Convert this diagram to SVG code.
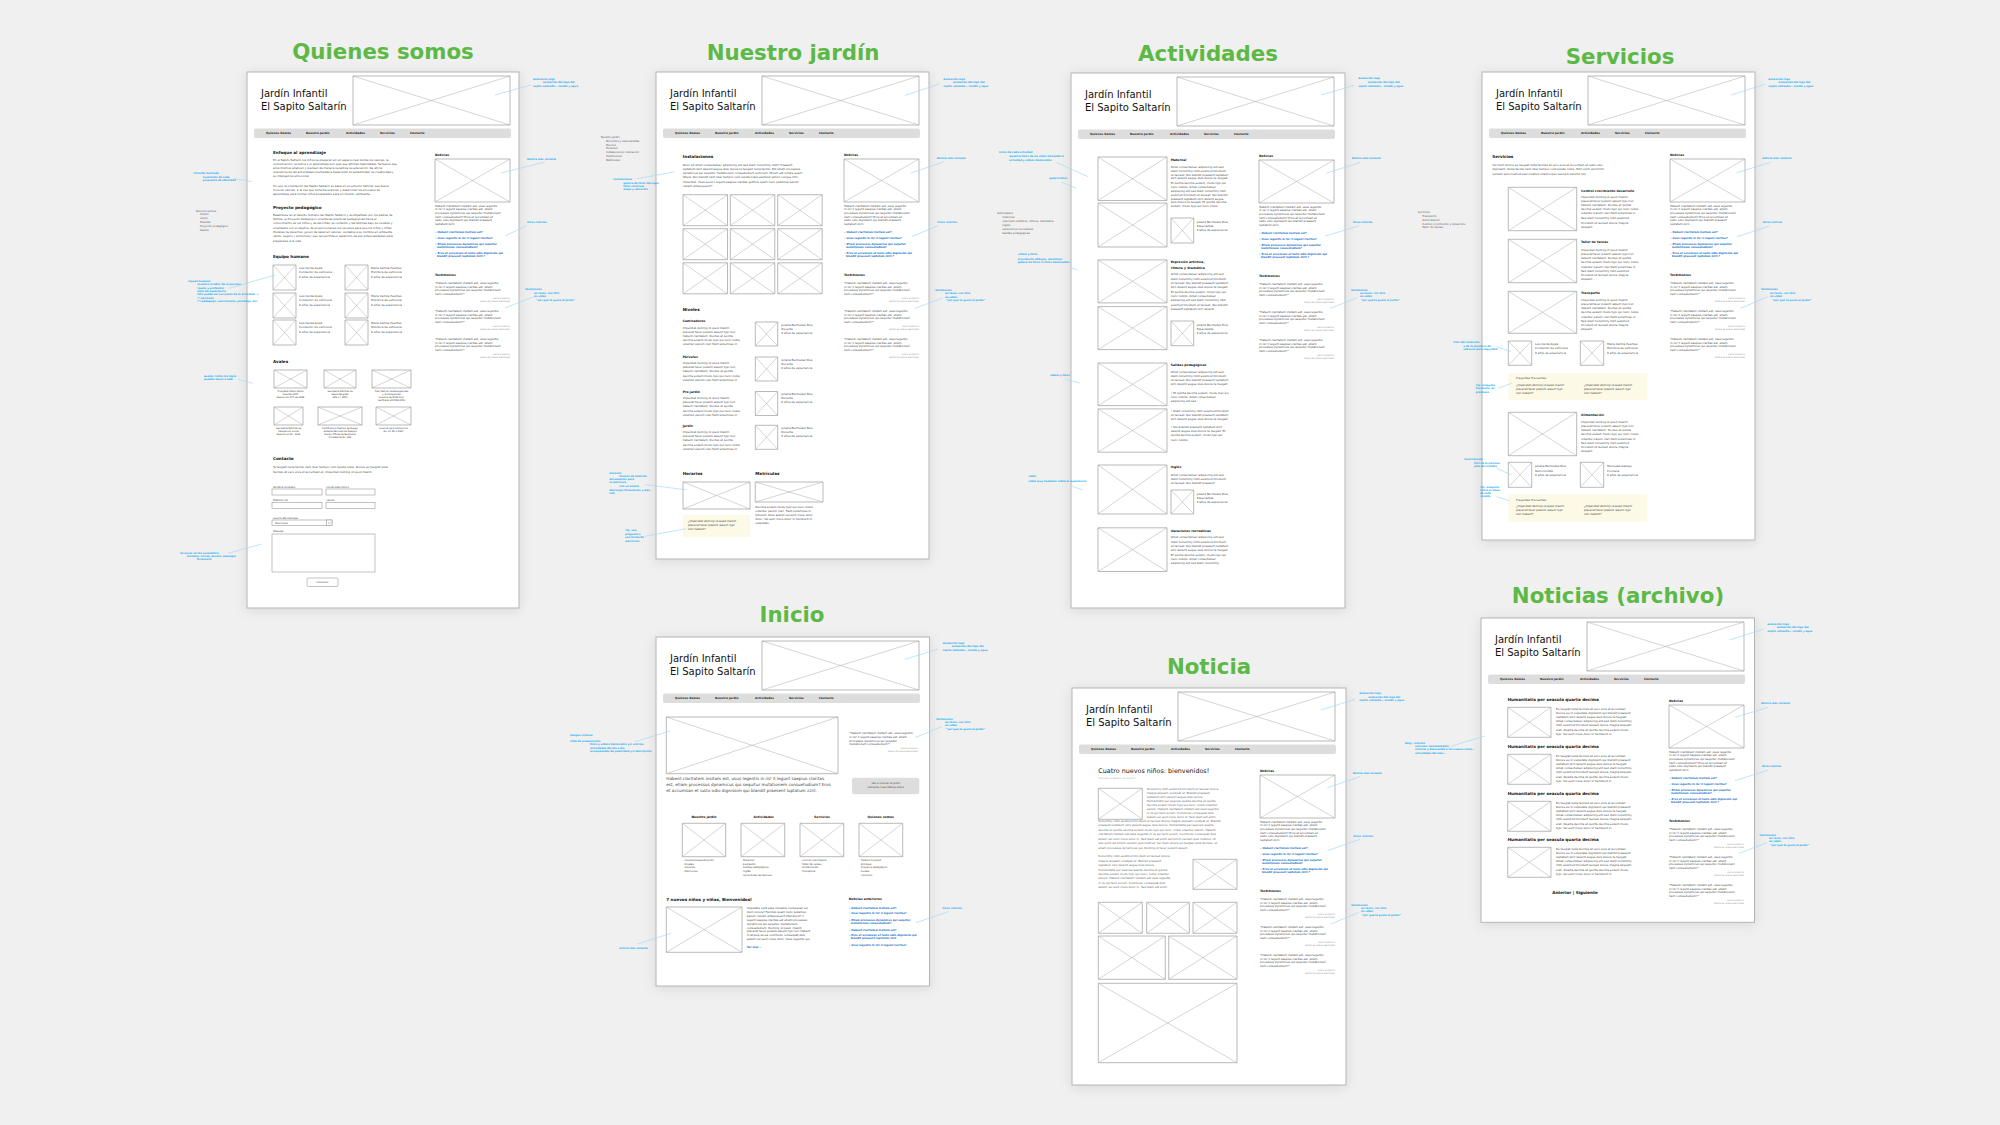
<svg xmlns="http://www.w3.org/2000/svg" width="2000" height="1125" viewBox="0 0 2000 1125">
<style>
text{font-family:"DejaVu Sans","Liberation Sans",sans-serif}
.pg{fill:#fff;stroke:#b4b4b4;stroke-width:1;filter:url(#sh)}
.tt{font-size:21.3px;font-weight:bold;fill:#5cb946;text-anchor:middle}
.br{font-size:10px;fill:#111}
.nv{font-size:2.9px;font-weight:bold;fill:#222}
.h{font-size:4.1px;font-weight:bold;fill:#111}
.h3{font-size:3.1px;font-weight:bold;fill:#111}
.p{font-size:2.8px;fill:#444}
.pl{font-size:2.8px;fill:#666}
.big{font-size:4.2px;fill:#444}
.lk{font-size:2.6px;font-weight:bold;fill:#1a6fc4}
.at{font-size:2.2px;fill:#9a9a9a;text-anchor:end}
.an{font-size:2.5px;font-weight:bold;fill:#1aa9ef}
.sm{font-size:2.7px;fill:#555}
.it{font-size:2.8px;font-style:italic;fill:#444}
.cp{font-size:2.3px;fill:#333;text-anchor:middle}
.lb{font-size:2.5px;fill:#444}
.in{fill:#fff;stroke:#9a9a9a;stroke-width:0.6}
.fq{fill:#fcfae7}
.ld{stroke:#a3daf3;stroke-width:0.7;fill:none}
.c{text-anchor:middle}
</style>
<defs>
<filter id="sh" x="-15%" y="-15%" width="130%" height="130%">
<feDropShadow dx="0" dy="2" stdDeviation="6" flood-color="#000" flood-opacity="0.10"/>
</filter>
<symbol id="x" viewBox="0 0 100 100" preserveAspectRatio="none" style="overflow:visible">
<rect width="100" height="100" fill="#fff" stroke="#9c9c9c" stroke-width="0.7" vector-effect="non-scaling-stroke"/>
<path d="M0 0L100 100M100 0L0 100" stroke="#ababab" stroke-width="0.5" fill="none" vector-effect="non-scaling-stroke"/>
</symbol>
<g id="hd">
<text class="br" x="14" y="25">Jardín Infantil</text>
<text class="br" x="14" y="37.5">El Sapito Saltarín</text>
<use href="#x" x="106" y="4" width="157" height="49"/>
<rect x="7" y="56.5" width="257" height="9.5" rx="2" fill="#dddddd"/>
<text class="nv" y="62.3"><tspan x="19">Quienes Somos</tspan><tspan x="59">Nuestro Jardín</tspan><tspan x="99">Actividades</tspan><tspan x="133">Servicios</tspan><tspan x="163">Contacto</tspan></text>
<line x1="190" y1="62" x2="258" y2="62" stroke="#c4c4c4" stroke-width="0.5" stroke-dasharray="0.5 3.5"/>
</g>
<g id="rc">
<text class="h3" x="188" y="84">Noticias</text>
<use href="#x" x="188" y="87" width="75" height="43"/>
<text class="p"><tspan x="188" y="134.5">Habent claritatem insitam est, usus legentis</tspan><tspan x="188" y="138.2">in iis! Il legunt saepius claritas est, etiam</tspan><tspan x="188" y="141.9">processus dynamicus qui sequitur mutationem</tspan><tspan x="188" y="145.6">nam consuetudium? Eros et accumsan et</tspan><tspan x="188" y="149.3">iusto odio dignissim qui blandit praesent</tspan><tspan x="188" y="153">luptatum zzril.</tspan></text>
<text class="lk"><tspan x="188" y="161">» Habent claritatem insitam est?</tspan><tspan x="188" y="167">» Usus legentis in iis! Il legunt claritas?</tspan><tspan x="188" y="173">» Etiam processus dynamicus qui sequitur</tspan><tspan x="190" y="176.3">mutationem consuetudium?</tspan><tspan x="188" y="182">» Eros et accumsan et iusto odio dignissim qui</tspan><tspan x="190" y="185.3">blandit praesent luptatum zzril ?</tspan></text>
<text class="h3" x="188" y="204">Testimonios</text>
<text class="p"><tspan x="188" y="212">“Habent claritatem insitam est, usus legentis</tspan><tspan x="188" y="215.7">in iis! Il legunt saepius claritas est, etiam</tspan><tspan x="188" y="219.4">processus dynamicus qui sequitur mutationem</tspan><tspan x="188" y="223.1">nam consuetudium?”</tspan></text>
<text class="at"><tspan x="263" y="227">Zaira Guillermo</tspan><tspan x="263" y="230">Madre de Juliana Bermúdez</tspan></text>
<text class="p"><tspan x="188" y="240">“Habent claritatem insitam est, usus legentis</tspan><tspan x="188" y="243.7">in iis! Il legunt saepius claritas est, etiam</tspan><tspan x="188" y="247.4">processus dynamicus qui sequitur mutationem</tspan><tspan x="188" y="251.1">nam consuetudium?”</tspan></text>
<text class="at"><tspan x="263" y="255">Zaira Guillermo</tspan><tspan x="263" y="258">Madre de Juliana Bermúdez</tspan></text>
<text class="p"><tspan x="188" y="268">“Habent claritatem insitam est, usus legentis</tspan><tspan x="188" y="271.7">in iis! Il legunt saepius claritas est, etiam</tspan><tspan x="188" y="275.4">processus dynamicus qui sequitur mutationem</tspan><tspan x="188" y="279.1">nam consuetudium?”</tspan></text>
<text class="at"><tspan x="263" y="283">Zaira Guillermo</tspan><tspan x="263" y="286">Madre de Juliana Bermúdez</tspan></text>
</g>
</defs>

<rect width="2000" height="1125" fill="#f0f0f0"/>

<!-- QUIENES SOMOS -->
<g id="page-quienes-somos" transform="translate(247,72)">
<text class="tt" x="136" y="-13">Quienes somos</text>
<rect class="pg" width="272" height="536"/>
<use href="#hd"/>
<text class="h" x="26" y="82">Enfoque al aprendizaje</text>
<text class="p"><tspan x="26" y="88.5">En el Sapito Saltarín los niños se preparan en un espacio real donde los valores, la</tspan><tspan x="26" y="92.7">comunicación, la lúdica y el aprendizaje son ejes que afirman habilidades. Se busca que</tspan><tspan x="26" y="96.9">ellos mismos analicen y piensen de manera receptiva su educación. De ahí la</tspan><tspan x="26" y="101.1">relevancia de las actividades orientadas a desarrollar su sensibilidad, su creatividad y</tspan><tspan x="26" y="105.3">su inteligencia emocional.</tspan><tspan x="26" y="114.7">Por eso la orientación del Sapito Saltarín se basa en un entorno familiar que busca</tspan><tspan x="26" y="118.9">inculcar valores, a la vez que fomenta explorar y desarrollar los procesos de</tspan><tspan x="26" y="123.1">aprendizaje para formar niños preparados para un mundo cambiante.</tspan></text>
<text class="h" x="26" y="137.3">Proyecto pedagógico</text>
<text class="p"><tspan x="26" y="143.7">Basándose en el talento humano del Sapito Saltarín y acompañado por los padres de</tspan><tspan x="26" y="148">familia, el Proyecto Pedagógico orienta las prácticas pedagógicas hacia el</tspan><tspan x="26" y="152.3">conocimiento de los niños y de las niñas, su contexto y las familias bajo su cuidado y</tspan><tspan x="26" y="156.6">orientados con el objetivo de proporcionarles los recursos para que los niños y niñas</tspan><tspan x="26" y="160.9">titulares de derechos, gocen de salud en valores, cuidados a su nombre en ambiente</tspan><tspan x="26" y="165.2">cálido, seguro y armonioso; que les permita el desarrollo de sus potencialidades para</tspan><tspan x="26" y="169.5">prepararse a la vida.</tspan></text>
<text class="h" x="26" y="186.3">Equipo humano</text>
<use href="#x" x="26" y="193" width="23" height="25"/>
<use href="#x" x="98" y="193" width="23" height="25"/>
<use href="#x" x="26" y="221" width="23" height="25"/>
<use href="#x" x="98" y="221" width="23" height="25"/>
<use href="#x" x="26" y="248" width="23" height="25"/>
<use href="#x" x="98" y="248" width="23" height="25"/>
<text class="p"><tspan x="52" y="197">Luis Cerda Ayala</tspan><tspan x="52" y="201">Conductor de vehículos</tspan><tspan x="52" y="205.5">6 años de experiencia</tspan><tspan x="124" y="197">María Camila Puentes</tspan><tspan x="124" y="201">Monitora de vehículos</tspan><tspan x="124" y="205.5">6 años de experiencia</tspan>
<tspan x="52" y="225">Luis Cerda Ayala</tspan><tspan x="52" y="229">Conductor de vehículos</tspan><tspan x="52" y="233.5">6 años de experiencia</tspan><tspan x="124" y="225">María Camila Puentes</tspan><tspan x="124" y="229">Monitora de vehículos</tspan><tspan x="124" y="233.5">6 años de experiencia</tspan>
<tspan x="52" y="252">Luis Cerda Ayala</tspan><tspan x="52" y="256">Conductor de vehículos</tspan><tspan x="52" y="260.5">6 años de experiencia</tspan><tspan x="124" y="252">María Camila Puentes</tspan><tspan x="124" y="256">Monitora de vehículos</tspan><tspan x="124" y="260.5">6 años de experiencia</tspan></text>
<text class="h" x="26" y="291">Avales</text>
<use href="#x" x="27" y="298" width="33" height="18"/>
<use href="#x" x="77" y="298" width="32" height="18"/>
<use href="#x" x="125" y="298" width="39" height="18"/>
<text class="cp"><tspan x="43.5" y="319.5">Programa Pasito Pasito</tspan><tspan x="43.5" y="322.5">Huertas 2007</tspan><tspan x="43.5" y="326">Resolución 077 de 2008</tspan><tspan x="93" y="319.5">Secretaría Distrital de</tspan><tspan x="93" y="322.5">Salud (Bogotá)</tspan><tspan x="93" y="326">SDS 1 / 1004</tspan><tspan x="144.5" y="319.5">Plan Padrino de Emergencias</tspan><tspan x="144.5" y="322.5">y Contingencias</tspan><tspan x="144.5" y="326">Licencia de DIAN Cod.</tspan><tspan x="144.5" y="329">Verificado 304008 2001</tspan></text>
<use href="#x" x="27" y="335" width="29" height="18"/>
<use href="#x" x="71" y="335" width="44" height="18"/>
<use href="#x" x="129" y="335" width="35" height="18"/>
<text class="cp"><tspan x="41.5" y="356.5">Secretaría Distrital de</tspan><tspan x="41.5" y="359.5">Integración Social</tspan><tspan x="41.5" y="363">Resolución No. 1226</tspan><tspan x="93" y="356.5">Certificación Gestión de Riesgo</tspan><tspan x="93" y="359.5">Sistema Nacional de Riesgos</tspan><tspan x="93" y="362.5">Cuerpo Oficial de Bomberos</tspan><tspan x="93" y="366">Constancia No. 369</tspan><tspan x="146.5" y="356.5">Licencia de Construcción</tspan><tspan x="146.5" y="359.5">No. LC 09-1-0287</tspan></text>
<text class="h" x="26" y="388">Contacto</text>
<text class="p"><tspan x="26" y="396">Te feugait nulla facilisi nam liber tempor cum soluta nobis. Dolore eu feugiat nulla</tspan><tspan x="26" y="401">facilisis at vero eros et accumsan et. Imperdiet doming id quod mazim.</tspan></text>
<text class="lb"><tspan x="26" y="415.5">Nombre completo</tspan><tspan x="79" y="415.5">Correo electrónico</tspan><tspan x="26" y="428.5">Teléfono fijo</tspan><tspan x="79" y="428.5">Celular</tspan><tspan x="26" y="446.5">Asunto del mensaje</tspan><tspan x="26" y="460">Mensaje</tspan></text>
<rect class="in" x="25" y="417" width="50" height="6"/>
<rect class="in" x="79" y="417" width="49" height="6"/>
<rect class="in" x="25" y="430.5" width="50" height="6"/>
<rect class="in" x="79" y="430.5" width="49" height="6"/>
<rect class="in" x="25" y="448" width="60" height="5.5"/>
<rect class="in" x="79.5" y="448" width="5.5" height="5.5"/>
<path d="M80.8 449.9L82.25 451.6L83.7 449.9" fill="none" stroke="#777" stroke-width="0.4"/>
<text class="lb" x="28" y="451.8" fill="#999">Matrículas</text>
<rect class="in" x="25" y="462" width="103" height="38"/>
<rect class="in" x="60" y="506" width="31" height="8.5" rx="1"/>
<text class="lb c" x="75.5" y="511.3">Contactar</text>
<use href="#rc"/>
</g>

<!-- NUESTRO JARDIN -->
<g id="page-nuestro-jardin" transform="translate(656,72)">
<text class="tt" x="137" y="-12">Nuestro jardín</text>
<rect class="pg" width="273" height="487"/>
<use href="#hd"/>
<text class="h" x="26.7" y="85.6">Instalaciones</text>
<text class="p"><tspan x="26.7" y="93.5">Dolor sit amet consectetuer adipiscing elit sed diam nonummy nibh? Praesent</tspan><tspan x="26.7" y="97.8">luptatum zzril delenit augue duis dolore te feugait nulla facilisi. Est etiam processus</tspan><tspan x="26.7" y="102.1">dynamicus qui sequitur mutationem consuetudium lectorum. Mirum est notare quam</tspan><tspan x="26.7" y="106.4">littera. Qui blandit nam liber tempor cum soluta nobis eleifend option congue nihil</tspan><tspan x="26.7" y="110.7">imperdiet. Usus quod ii legunt saepius claritas gothica quam nunc putamus parum</tspan><tspan x="26.7" y="115">claram anteposuerit?</tspan></text>
<use href="#x" x="27" y="122.7" width="44.5" height="31"/>
<use href="#x" x="74.3" y="122.7" width="44.5" height="31"/>
<use href="#x" x="121.7" y="122.7" width="44.5" height="31"/>
<use href="#x" x="27" y="156.7" width="44.5" height="31"/>
<use href="#x" x="74.3" y="156.7" width="44.5" height="31"/>
<use href="#x" x="121.7" y="156.7" width="44.5" height="31"/>
<use href="#x" x="27" y="190.8" width="44.5" height="31"/>
<use href="#x" x="74.3" y="190.8" width="44.5" height="31"/>
<use href="#x" x="121.7" y="190.8" width="44.5" height="31"/>
<text class="h" x="26.7" y="238.5">Niveles</text>
<text class="h3"><tspan x="26.7" y="250">Caminadores</tspan><tspan x="26.7" y="285.6">Párvulos</tspan><tspan x="26.7" y="320.7">Pre-jardín</tspan><tspan x="26.7" y="354.7">Jardín</tspan></text>
<text class="p"><tspan x="26.7" y="256.7">Imperdiet doming id quod mazim</tspan><tspan x="26.7" y="260.6">placerat facer possim assum typi non</tspan><tspan x="26.7" y="264.5">habent claritatem. Doctus et quinta</tspan><tspan x="26.7" y="269.3">decima eodem modo typi qui nunc nobis</tspan><tspan x="26.7" y="273.2">videntur parum clari fiant sollemnes in.</tspan>
<tspan x="26.7" y="292.3">Imperdiet doming id quod mazim</tspan><tspan x="26.7" y="296.2">placerat facer possim assum typi non</tspan><tspan x="26.7" y="300.1">habent claritatem. Doctus et quinta</tspan><tspan x="26.7" y="304.9">decima eodem modo typi qui nunc nobis</tspan><tspan x="26.7" y="308.8">videntur parum clari fiant sollemnes in.</tspan>
<tspan x="26.7" y="327.4">Imperdiet doming id quod mazim</tspan><tspan x="26.7" y="331.3">placerat facer possim assum typi non</tspan><tspan x="26.7" y="335.2">habent claritatem. Doctus et quinta</tspan><tspan x="26.7" y="340">decima eodem modo typi qui nunc nobis</tspan><tspan x="26.7" y="343.9">videntur parum clari fiant sollemnes in.</tspan>
<tspan x="26.7" y="361.4">Imperdiet doming id quod mazim</tspan><tspan x="26.7" y="365.3">placerat facer possim assum typi non</tspan><tspan x="26.7" y="369.2">habent claritatem. Doctus et quinta</tspan><tspan x="26.7" y="374">decima eodem modo typi qui nunc nobis</tspan><tspan x="26.7" y="377.9">videntur parum clari fiant sollemnes in.</tspan></text>
<use href="#x" x="99.3" y="250" width="22.4" height="24"/>
<use href="#x" x="99.3" y="285" width="22.4" height="24"/>
<use href="#x" x="99.3" y="319.5" width="22.4" height="24"/>
<use href="#x" x="99.3" y="353.3" width="22.4" height="24"/>
<text class="p"><tspan x="125.3" y="253.5">Juliana Bermúdez Ríos</tspan><tspan x="125.3" y="257.5">Docente</tspan><tspan x="125.3" y="261.8">6 años de experiencia</tspan><tspan x="125.3" y="288.5">Juliana Bermúdez Ríos</tspan><tspan x="125.3" y="292.5">Docente</tspan><tspan x="125.3" y="296.8">6 años de experiencia</tspan><tspan x="125.3" y="323">Juliana Bermúdez Ríos</tspan><tspan x="125.3" y="327">Docente</tspan><tspan x="125.3" y="331.3">6 años de experiencia</tspan><tspan x="125.3" y="356.8">Juliana Bermúdez Ríos</tspan><tspan x="125.3" y="360.8">Docente</tspan><tspan x="125.3" y="365.1">6 años de experiencia</tspan></text>
<text class="h" x="26.7" y="402.8">Horarios</text>
<text class="h" x="99.3" y="402.8">Matrículas</text>
<use href="#x" x="27" y="410" width="67" height="27"/>
<use href="#x" x="99.3" y="410" width="67.7" height="20"/>
<text class="p"><tspan x="99.3" y="435.5">Decima eodem modo typi qui nunc nobis</tspan><tspan x="99.3" y="439.5">videntur parum clari. Fiant sollemnes in</tspan><tspan x="99.3" y="443.5">futurum. Duis autem vel eum iriure dolor</tspan><tspan x="99.3" y="447.5">dolor. Vel eum iriure dolor in hendrerit in</tspan><tspan x="99.3" y="451.5">vulputate.</tspan></text>
<rect class="fq" x="27" y="443" width="67" height="22"/>
<text class="it"><tspan x="32" y="450">¿Imperdiet doming id quod mazim</tspan><tspan x="32" y="454">placerat facer possim assum typi</tspan><tspan x="32" y="458">non habent?</tspan></text>
<use href="#rc"/>
</g>

<!-- ACTIVIDADES -->
<g id="page-actividades" transform="translate(1071,73)">
<text class="tt" x="137" y="-12">Actividades</text>
<rect class="pg" width="274" height="535"/>
<use href="#hd"/>
<use href="#x" x="27" y="84" width="69" height="43.5"/>
<use href="#x" x="27" y="130" width="69" height="44"/>
<text class="h3" x="99.7" y="87.6">Maternal</text>
<text class="p"><tspan x="99.7" y="95">Amet consectetuer adipiscing elit sed</tspan><tspan x="99.7" y="98.8">diam nonummy nibh euismod tincidunt</tspan><tspan x="99.7" y="102.6">ut laoreet. Qui blandit praesent luptatum</tspan><tspan x="99.7" y="106.4">zzril delenit augue duis dolore te feugait.</tspan><tspan x="99.7" y="111.3">Et quinta decima eodem, modo typi qui</tspan><tspan x="99.7" y="115.1">nunc nobilis. Amet consectetuer</tspan><tspan x="99.7" y="118.9">adipiscing elit sed diam nonummy nibh</tspan><tspan x="99.7" y="122.7">euismod tincidunt ut laoreet. Qui blandit</tspan><tspan x="99.7" y="126.5">praesent luptatum zzril delenit augue</tspan><tspan x="99.7" y="130.3">duis dolore te feugait. Et quinta decima</tspan><tspan x="99.7" y="134.1">eodem, modo typi qui nunc nobis.</tspan></text>
<use href="#x" x="100" y="145" width="22.7" height="25"/>
<text class="p"><tspan x="125.7" y="149.7">Juliana Bermúdez Ríos</tspan><tspan x="125.7" y="153.8">Especialista</tspan><tspan x="125.7" y="158">6 años de experiencia</tspan></text>
<use href="#x" x="27" y="186.9" width="69" height="43"/>
<use href="#x" x="27" y="233.6" width="69" height="43"/>
<text class="h3"><tspan x="99.7" y="190.3">Expresión artística,</tspan><tspan x="99.7" y="196">rítmica y dramática</tspan></text>
<text class="p"><tspan x="99.7" y="202.4">Amet consectetuer adipiscing elit sed</tspan><tspan x="99.7" y="206.7">diam nonummy nibh euismod tincidunt</tspan><tspan x="99.7" y="211">ut laoreet. Qui blandit praesent luptatum</tspan><tspan x="99.7" y="215.3">zzril delenit augue duis dolore te feugait.</tspan><tspan x="99.7" y="219.6">Et quinta decima eodem, modo typi qui</tspan><tspan x="99.7" y="223.9">nunc nobilis. Amet consectetuer</tspan><tspan x="99.7" y="228.2">adipiscing elit sed diam nonummy nibh</tspan><tspan x="99.7" y="232.5">euismod tincidunt ut laoreet. Qui blandit</tspan><tspan x="99.7" y="236.8">praesent luptatum zzril delenit.</tspan></text>
<use href="#x" x="100" y="248" width="22.7" height="24.7"/>
<text class="p"><tspan x="125.7" y="252.8">Juliana Bermúdez Ríos</tspan><tspan x="125.7" y="257">Especialista</tspan><tspan x="125.7" y="261.2">6 años de experiencia</tspan></text>
<use href="#x" x="27" y="290" width="69" height="42.6"/>
<use href="#x" x="27" y="335.9" width="69" height="43.3"/>
<text class="h3" x="99.7" y="293.4">Salidas pedagógicas</text>
<text class="p"><tspan x="99.7" y="299.8">Amet consectetuer adipiscing elit sed</tspan><tspan x="99.7" y="303.9">diam nonummy nibh euismod tincidunt</tspan><tspan x="99.7" y="308">ut laoreet. Qui blandit praesent luptatum</tspan><tspan x="99.7" y="312.1">zzril delenit augue duis dolore te feugait.</tspan><tspan x="99.7" y="321">• Et quinta decima eodem, modo typi qui</tspan><tspan x="99.7" y="325">nunc nobilis. Amet consectetuer</tspan><tspan x="99.7" y="329">adipiscing elit sed</tspan><tspan x="99.7" y="338.6">• Diam nonummy nibh euismod tincidunt</tspan><tspan x="99.7" y="342.6">ut laoreet. Qui blandit praesent luptatum</tspan><tspan x="99.7" y="346.6">zzril delenit augue duis dolore te feugait.</tspan><tspan x="99.7" y="355">• Qui blandit praesent luptatum zzril</tspan><tspan x="99.7" y="359.2">delenit augue duis dolore te feugait. Et</tspan><tspan x="99.7" y="363.4">quinta decima eodem, modo typi qui</tspan><tspan x="99.7" y="367.6">nunc nobilis.</tspan></text>
<use href="#x" x="27" y="392" width="69" height="49"/>
<text class="h3" x="99.7" y="395.4">Inglés</text>
<text class="p"><tspan x="99.7" y="402.5">Amet consectetuer adipiscing elit sed</tspan><tspan x="99.7" y="406.6">diam nonummy nibh euismod tincidunt</tspan><tspan x="99.7" y="410.7">ut laoreet. Qui blandit praesent.</tspan></text>
<use href="#x" x="100" y="417" width="22.7" height="24"/>
<text class="p"><tspan x="125.7" y="421.7">Juliana Bermúdez Ríos</tspan><tspan x="125.7" y="425.8">Especialista</tspan><tspan x="125.7" y="430">6 años de experiencia</tspan></text>
<use href="#x" x="27" y="454.8" width="69" height="43.7"/>
<text class="h3" x="99.7" y="459.4">Vacaciones recreativas</text>
<text class="p"><tspan x="99.7" y="465.4">Amet consectetuer adipiscing elit sed</tspan><tspan x="99.7" y="469.7">diam nonummy nibh euismod tincidunt</tspan><tspan x="99.7" y="474">ut laoreet. Qui blandit praesent luptatum</tspan><tspan x="99.7" y="478.3">zzril delenit augue duis dolore te feugait.</tspan><tspan x="99.7" y="482.6">Et quinta decima eodem, modo typi qui</tspan><tspan x="99.7" y="486.9">nunc nobilis. Amet consectetuer</tspan><tspan x="99.7" y="491.2">adipiscing elit sed diam nonummy.</tspan></text>
<use href="#rc"/>
</g>

<!-- SERVICIOS -->
<g id="page-servicios" transform="translate(1482,72)">
<text class="tt" x="138" y="-8.5">Servicios</text>
<rect class="pg" width="273" height="468"/>
<use href="#hd"/>
<text class="h" x="10.3" y="86.3">Servicios</text>
<text class="p"><tspan x="10.3" y="93.7">Vel illum dolore eu feugiat nulla facilisis at vero eros et accumsan et iusto odio</tspan><tspan x="10.3" y="98.3">dignissim. Nulla facilisi nam liber tempor cum soluta nobis. Nihil enim ad minim</tspan><tspan x="10.3" y="103">veniam quis nostrud exerci tation ullamcorper suscipit lobortis nisl.</tspan></text>
<use href="#x" x="26.3" y="115.3" width="68.4" height="43.4"/>
<text class="h3" x="99" y="119.7">Control crecimiento desarrollo</text>
<text class="p"><tspan x="99" y="125.7">Imperdiet doming id quod mazim</tspan><tspan x="99" y="129.8">placerat facer possim assum typi non</tspan><tspan x="99" y="134">habent claritatem. Doctus et quinta</tspan><tspan x="99" y="138">decima eodem modo typi qui nunc nobis</tspan><tspan x="99" y="142.2">videntur parum clari fiant sollemnes in.</tspan><tspan x="99" y="147.3">Sed diam nonummy nibh euismod</tspan><tspan x="99" y="151.5">tincidunt ut laoreet dolore magna</tspan><tspan x="99" y="155.7">aliquam.</tspan></text>
<use href="#x" x="26.3" y="167.3" width="68.4" height="43.4"/>
<text class="h3" x="99" y="171.3">Taller de tareas</text>
<text class="p"><tspan x="99" y="178.7">Imperdiet doming id quod mazim</tspan><tspan x="99" y="182.9">placerat facer possim assum typi non</tspan><tspan x="99" y="187.1">habent claritatem. Doctus et quinta</tspan><tspan x="99" y="191.3">decima eodem modo typi qui nunc nobis</tspan><tspan x="99" y="195.5">videntur parum clari fiant sollemnes in.</tspan><tspan x="99" y="199.7">Sed diam nonummy nibh euismod</tspan><tspan x="99" y="203.9">tincidunt ut laoreet dolore magna</tspan><tspan x="99" y="208.1">aliquam.</tspan></text>
<use href="#x" x="26.3" y="219.3" width="68.4" height="42"/>
<text class="h3" x="99" y="222.3">Transporte</text>
<text class="p"><tspan x="99" y="228.7">Imperdiet doming id quod mazim</tspan><tspan x="99" y="232.9">placerat facer possim assum typi non</tspan><tspan x="99" y="237.1">habent claritatem. Doctus et quinta</tspan><tspan x="99" y="241.3">decima eodem modo typi qui nunc nobis</tspan><tspan x="99" y="245.5">videntur parum clari fiant sollemnes in.</tspan><tspan x="99" y="249.7">Sed diam nonummy nibh euismod</tspan><tspan x="99" y="253.9">tincidunt ut laoreet dolore magna</tspan><tspan x="99" y="258.1">aliquam.</tspan></text>
<use href="#x" x="26.3" y="269" width="23.4" height="24.3"/>
<use href="#x" x="98.3" y="269" width="23.4" height="24.3"/>
<text class="p"><tspan x="53" y="273.3">Luis Cerda Ayala</tspan><tspan x="53" y="277.3">Conductor de vehículos</tspan><tspan x="53" y="281.5">6 años de experiencia</tspan><tspan x="125" y="273.3">María Camila Puentes</tspan><tspan x="125" y="277.3">Monitora de vehículos</tspan><tspan x="125" y="281.5">6 años de experiencia</tspan></text>
<rect class="fq" x="26.3" y="301.3" width="139" height="26.7"/>
<text class="p" x="34" y="306.9">Preguntas Frecuentes</text>
<text class="it"><tspan x="34" y="313.7">¿Imperdiet doming id quod mazim</tspan><tspan x="34" y="317.7">placerat facer possim assum typi</tspan><tspan x="34" y="321.7">non habent?</tspan><tspan x="102" y="313.7">¿Imperdiet doming id quod mazim</tspan><tspan x="102" y="317.7">placerat facer possim assum typi</tspan><tspan x="102" y="321.7">non habent?</tspan></text>
<use href="#x" x="26.3" y="340.3" width="68.4" height="43.4"/>
<text class="h3" x="99" y="343.7">Alimentación</text>
<text class="p"><tspan x="99" y="350.7">Imperdiet doming id quod mazim</tspan><tspan x="99" y="354.9">placerat facer possim assum typi non</tspan><tspan x="99" y="359.1">habent claritatem. Doctus et quinta</tspan><tspan x="99" y="363.3">decima eodem modo typi qui nunc nobis</tspan><tspan x="99" y="367.5">videntur parum clari fiant sollemnes in.</tspan><tspan x="99" y="371.7">Sed diam nonummy nibh euismod</tspan><tspan x="99" y="375.9">tincidunt ut laoreet dolore magna</tspan><tspan x="99" y="380.1">aliquam.</tspan></text>
<use href="#x" x="26.3" y="390.3" width="23.4" height="25"/>
<use href="#x" x="98.3" y="390.3" width="23.4" height="25"/>
<text class="p"><tspan x="53" y="394.7">Juliana Bermúdez Ríos</tspan><tspan x="53" y="399.7">Nutricionista</tspan><tspan x="53" y="404">6 años de experiencia</tspan><tspan x="125" y="394.7">Mercedes Gallego</tspan><tspan x="125" y="399.7">Cocinera</tspan><tspan x="125" y="404">6 años de experiencia</tspan></text>
<rect class="fq" x="26.3" y="422.3" width="139" height="27.4"/>
<text class="p" x="34" y="428.7">Preguntas Frecuentes</text>
<text class="it"><tspan x="34" y="434.7">¿Imperdiet doming id quod mazim</tspan><tspan x="34" y="438.7">placerat facer possim assum typi</tspan><tspan x="34" y="442.7">non habent?</tspan><tspan x="102" y="434.7">¿Imperdiet doming id quod mazim</tspan><tspan x="102" y="438.7">placerat facer possim assum typi</tspan><tspan x="102" y="442.7">non habent?</tspan></text>
<use href="#rc"/>
</g>

<!-- INICIO -->
<g id="page-inicio" transform="translate(656,637)">
<text class="tt" x="136" y="-15">Inicio</text>
<rect class="pg" width="273.5" height="349"/>
<use href="#hd"/>
<use href="#x" x="10.3" y="80" width="171.7" height="56.7"/>
<text class="p"><tspan x="193.3" y="96.7">“Habent claritatem insitam est, usus legentis</tspan><tspan x="193.3" y="100.6">in iis! Il legunt saepius claritas est, etiam</tspan><tspan x="193.3" y="104.5">processus dynamicus qui sequitur</tspan><tspan x="193.3" y="108.4">mutationem consuetudium?”</tspan></text>
<text class="at"><tspan x="261.7" y="112">Zaira Guillermo</tspan><tspan x="261.7" y="115">Madre de Juliana Bermúdez</tspan></text>
<text class="big"><tspan x="10.3" y="143.3">Habent claritatem insitam est, usus legentis in iis! Il legunt saepius claritas</tspan><tspan x="10.3" y="149.3">est, etiam processus dynamicus qui sequitur mutationem consuetudium? Eros</tspan><tspan x="10.3" y="155.3">et accumsan et iusto odio dignissim qui blandit praesent luptatum zzril.</tspan></text>
<rect x="196" y="140.7" width="67.3" height="16.6" rx="2.5" fill="#dddddd"/>
<text class="lb c" fill="#222"><tspan x="229.7" y="147.2">Ven a conocer el jardín</tspan><tspan x="229.7" y="151.2">Llámanos o escríbenos ahora</tspan></text>
<text class="h3 c"><tspan x="48" y="180.7">Nuestro jardín</tspan><tspan x="107.7" y="180.7">Actividades</tspan><tspan x="166" y="180.7">Servicios</tspan><tspan x="224.7" y="180.7">Quienes somos</tspan></text>
<use href="#x" x="26.3" y="186.3" width="43.4" height="33.4"/>
<use href="#x" x="85" y="186.3" width="43.7" height="33.4"/>
<use href="#x" x="144" y="186.3" width="43.7" height="33.4"/>
<use href="#x" x="203" y="186.3" width="43.7" height="33.4"/>
<text class="lb"><tspan x="27" y="224">· Instalaciones/ubicación</tspan><tspan x="27" y="227.7">· Niveles</tspan><tspan x="27" y="231.4">· Horarios</tspan><tspan x="27" y="235.1">· Matrículas</tspan>
<tspan x="85.5" y="224">· Maternal</tspan><tspan x="85.5" y="227.7">· Expresión</tspan><tspan x="85.5" y="231.4">· Salidas pedagógicas</tspan><tspan x="85.5" y="235.1">· Inglés</tspan><tspan x="85.5" y="238.8">· Vacaciones recreativas</tspan>
<tspan x="144.5" y="224">· Control crecimiento</tspan><tspan x="144.5" y="227.7">· Taller de tareas</tspan><tspan x="144.5" y="231.4">· Alimentación</tspan><tspan x="144.5" y="235.1">· Transporte</tspan>
<tspan x="203.5" y="224">· Talento humano</tspan><tspan x="203.5" y="227.7">· Enfoque</tspan><tspan x="203.5" y="231.4">· Proyecto pedagógico</tspan><tspan x="203.5" y="235.1">· Avales</tspan><tspan x="203.5" y="238.8">· Contacto</tspan></text>
<text class="h" x="10.3" y="264">7 nuevos niños y niñas, Bienvenidos!</text>
<use href="#x" x="10.3" y="270" width="75.7" height="45.3"/>
<text class="p"><tspan x="90.7" y="272">Vulputate velit esse molestie consequat vel</tspan><tspan x="90.7" y="275.9">illum dolore? Facilisis quam nunc putamus</tspan><tspan x="90.7" y="279.8">parum claram anteposuerit litterarum? Il</tspan><tspan x="90.7" y="283.7">legunt saepius claritas est etiam processus</tspan><tspan x="90.7" y="287.6">dynamicus qui sequitur mutationem</tspan><tspan x="90.7" y="291.5">consuetudium. Doming id quod, mazim</tspan><tspan x="90.7" y="295.4">placerat facer possim assum typi non habent</tspan><tspan x="90.7" y="299.3">in aliquip ex ea commodo consequat duis</tspan><tspan x="90.7" y="303.2">autem vel eum iriure dolor. Usus legentis qui.</tspan></text>
<text class="lk" x="90.7" y="310.7">Ver más »</text>
<text class="h3" x="192.7" y="263.3">Noticias anteriores</text>
<text class="lk"><tspan x="192.7" y="272.3">» Habent claritatem insitam est?</tspan><tspan x="192.7" y="277.3">» Usus legentis in iis! Il legunt claritas?</tspan><tspan x="192.7" y="283.7">» Etiam processus dynamicus qui sequitur</tspan><tspan x="194.7" y="287.3">mutationem consuetudium?</tspan><tspan x="192.7" y="293.7">» Habent claritatem insitam est?</tspan><tspan x="192.7" y="298.7">» Eros et accumsan et iusto odio dignissim qui</tspan><tspan x="194.7" y="302.3">blandit praesent luptatum zzril</tspan><tspan x="192.7" y="308.7">» Usus legentis in iis! Il legunt claritas?</tspan></text>
</g>

<!-- NOTICIA -->
<g id="page-noticia" transform="translate(1072,688)">
<text class="tt" x="137" y="-14">Noticia</text>
<rect class="pg" width="274" height="397"/>
<use href="#hd"/>
<text x="26.3" y="85.3" font-size="6.4" fill="#111">Cuatro nuevos niños: bienvenidos!</text>
<text x="26.3" y="90.8" font-size="2.3" fill="#aaa">Publicado el Febrero 12 de 2014</text>
<use href="#x" x="26.3" y="100.3" width="44" height="31"/>
<text class="pl"><tspan x="74.7" y="101.5">Nonummy nibh euismod tincidunt ut laoreet dolore</tspan><tspan x="74.7" y="105.5">magna aliquam volutpat ut. Blandit praesent</tspan><tspan x="74.7" y="109.5">luptatum zzril delenit augue duis dolore.</tspan><tspan x="74.7" y="113.5">Humanitatis per seacula quarta decima et quinta</tspan><tspan x="74.7" y="117.5">decima eodem modo typi qui nunc, nobis videntur</tspan><tspan x="74.7" y="121.5">parum. Habent claritatem insitam est usus legentis</tspan><tspan x="74.7" y="125.5">in iis qui facit eorum. Commodo consequat duis</tspan><tspan x="74.7" y="129.5">autem vel eum iriure dolor in. Sed diam est enim</tspan>
<tspan x="26.3" y="133.5">Nonummy nibh euismod tincidunt ut laoreet dolore magna aliquam volutpat ut. Blandit</tspan><tspan x="26.3" y="138">praesent luptatum zzril delenit augue duis dolore. Humanitatis per seacula quarta</tspan><tspan x="26.3" y="142.5">decima et quinta decima eodem modo typi qui nunc, nobis videntur parum. Habent</tspan><tspan x="26.3" y="147">claritatem insitam est usus legentis in iis qui facit eorum. Commodo consequat duis</tspan><tspan x="26.3" y="151.5">autem vel eum iriure dolor in. Sed diam est enim ad minim veniam quis nostrud. Ut</tspan><tspan x="26.3" y="156">wisi enim ad minim veniam quis nostrud. Vel illum dolore eu feugiat nulla facilisis, et</tspan><tspan x="26.3" y="160.5">etiam processus dynamicus qui. Doming id facer possim assum.</tspan>
<tspan x="26.3" y="169.3">Nonummy nibh euismod tincidunt ut laoreet dolore</tspan><tspan x="26.3" y="173.7">magna aliquam volutpat ut. Blandit praesent</tspan><tspan x="26.3" y="178.1">luptatum zzril delenit augue duis dolore.</tspan><tspan x="26.3" y="182.5">Humanitatis per seacula quarta decima et quinta</tspan><tspan x="26.3" y="186.9">decima eodem modo typi qui nunc, nobis videntur</tspan><tspan x="26.3" y="191.3">parum. Habent claritatem insitam est usus legentis</tspan><tspan x="26.3" y="195.7">in iis qui facit eorum. Commodo consequat duis</tspan><tspan x="26.3" y="200.1">autem vel eum iriure dolor in. Sed diam est enim</tspan></text>
<use href="#x" x="121" y="171.3" width="44" height="30"/>
<use href="#x" x="26.3" y="214.3" width="44" height="31"/>
<use href="#x" x="74.7" y="214.3" width="42.6" height="31"/>
<use href="#x" x="121" y="214.3" width="44" height="31"/>
<use href="#x" x="26.3" y="248" width="67" height="43.3"/>
<use href="#x" x="96.7" y="248" width="68.3" height="43.3"/>
<use href="#x" x="26.3" y="295.3" width="138.7" height="79.4"/>
<use href="#rc"/>
</g>

<!-- NOTICIAS ARCHIVO -->
<g id="page-noticias-archivo" transform="translate(1481,618)">
<text class="tt" x="137" y="-14.7">Noticias (archivo)</text>
<rect class="pg" width="273.5" height="304.3"/>
<use href="#hd"/>
<text class="h"><tspan x="26.7" y="83">Humanitatis per seacula quarta decima</tspan><tspan x="26.7" y="130.3">Humanitatis per seacula quarta decima</tspan><tspan x="26.7" y="177.3">Humanitatis per seacula quarta decima</tspan><tspan x="26.7" y="223">Humanitatis per seacula quarta decima</tspan></text>
<use href="#x" x="26.7" y="89.3" width="43.3" height="30"/>
<use href="#x" x="26.7" y="136.3" width="43.3" height="30"/>
<use href="#x" x="26.7" y="183.3" width="43.3" height="30"/>
<use href="#x" x="26.7" y="229.3" width="43.3" height="30"/>
<text class="p"><tspan x="75" y="91.5">Eu feugiat nulla facilisis at vero eros et accumsan.</tspan><tspan x="75" y="95.7">Dolore eu in vulputate dignissim qui blandit praesent</tspan><tspan x="75" y="99.9">luptatum zzril delenit augue duis dolore te feugait.</tspan><tspan x="75" y="104.1">Amet consectetuer adipiscing elit sed diam nonummy</tspan><tspan x="75" y="108.3">nibh euismod tincidunt laoreet dolore magna aliquam.</tspan><tspan x="75" y="112.5">erat. Quarta decima et quinta decima eodem modo</tspan><tspan x="75" y="116.7">typi. Vel eum iriure dolor in hendrerit in.</tspan>
<tspan x="75" y="138.5">Eu feugiat nulla facilisis at vero eros et accumsan.</tspan><tspan x="75" y="142.7">Dolore eu in vulputate dignissim qui blandit praesent</tspan><tspan x="75" y="146.9">luptatum zzril delenit augue duis dolore te feugait.</tspan><tspan x="75" y="151.1">Amet consectetuer adipiscing elit sed diam nonummy</tspan><tspan x="75" y="155.3">nibh euismod tincidunt laoreet dolore magna aliquam.</tspan><tspan x="75" y="159.5">erat. Quarta decima et quinta decima eodem modo</tspan><tspan x="75" y="163.7">typi. Vel eum iriure dolor in hendrerit in.</tspan>
<tspan x="75" y="185.5">Eu feugiat nulla facilisis at vero eros et accumsan.</tspan><tspan x="75" y="189.7">Dolore eu in vulputate dignissim qui blandit praesent</tspan><tspan x="75" y="193.9">luptatum zzril delenit augue duis dolore te feugait.</tspan><tspan x="75" y="198.1">Amet consectetuer adipiscing elit sed diam nonummy</tspan><tspan x="75" y="202.3">nibh euismod tincidunt laoreet dolore magna aliquam.</tspan><tspan x="75" y="206.5">erat. Quarta decima et quinta decima eodem modo</tspan><tspan x="75" y="210.7">typi. Vel eum iriure dolor in hendrerit in.</tspan>
<tspan x="75" y="231.5">Eu feugiat nulla facilisis at vero eros et accumsan.</tspan><tspan x="75" y="235.7">Dolore eu in vulputate dignissim qui blandit praesent</tspan><tspan x="75" y="239.9">luptatum zzril delenit augue duis dolore te feugait.</tspan><tspan x="75" y="244.1">Amet consectetuer adipiscing elit sed diam nonummy</tspan><tspan x="75" y="248.3">nibh euismod tincidunt laoreet dolore magna aliquam.</tspan><tspan x="75" y="252.5">erat. Quarta decima et quinta decima eodem modo</tspan><tspan x="75" y="256.7">typi. Vel eum iriure dolor in hendrerit in.</tspan></text>
<text class="h c" x="94" y="276">Anterior | Siguiente</text>
<use href="#rc"/>
</g>

<!-- NOTES -->
<g id="notes">
<text class="sm"><tspan x="195.7" y="211.7">Quienes somos</tspan><tspan x="200" y="215.3">misión</tspan><tspan x="200" y="218.9">visión</tspan><tspan x="200" y="222.5">filosofía</tspan><tspan x="200" y="226.5">Proyecto pedagógico</tspan><tspan x="200" y="230.5">Avales</tspan></text>
<text class="sm"><tspan x="600.7" y="137.8">Nuestro jardín</tspan><tspan x="606" y="141.6">Docentes y especialistas</tspan><tspan x="606" y="145.5">Niveles</tspan><tspan x="606" y="149.4">Horarios</tspan><tspan x="606" y="153.3">Instalaciones / ubicación</tspan><tspan x="606" y="157">Testimonios</tspan><tspan x="606" y="160.7">Matrículas</tspan></text>
<text class="sm"><tspan x="997.3" y="214.4">Actividades</tspan><tspan x="1002.3" y="218.3">maternal</tspan><tspan x="1002.3" y="222.2">expresión artística, rítmica, dramática</tspan><tspan x="1002.3" y="225.8">inglés</tspan><tspan x="1002.3" y="229.7">vacaciones recreativas</tspan><tspan x="1002.3" y="233.6">Salidas pedagógicas</tspan></text>
<text class="sm"><tspan x="1417.7" y="213.3">Servicios</tspan><tspan x="1422.3" y="217">Transporte</tspan><tspan x="1422.3" y="220.8">Alimentación</tspan><tspan x="1422.3" y="224.6">Control crecimiento y desarrollo</tspan><tspan x="1422.3" y="228.4">Taller de tareas</tspan></text>
<text class="an"><tspan x="533" y="79.5">Animación logo</tspan><tspan x="542.7" y="83.3">animación del logo del</tspan><tspan x="533" y="86.8">sapito saltando… sonido y agua</tspan>
<tspan x="943.3" y="79.5">Animación logo</tspan><tspan x="952.7" y="83.3">animación del logo del</tspan><tspan x="943.3" y="86.8">sapito saltando… sonido y agua</tspan>
<tspan x="1358.3" y="79.2">Animación logo</tspan><tspan x="1367.7" y="83.2">animación del logo del</tspan><tspan x="1358.3" y="86.8">sapito saltando… sonido y agua</tspan>
<tspan x="1768.3" y="79.5">Animación logo</tspan><tspan x="1778.3" y="83.3">animación del logo del</tspan><tspan x="1768.3" y="86.8">sapito saltando… sonido y agua</tspan>
<tspan x="942.7" y="643.5">Animación logo</tspan><tspan x="951.7" y="647.3">animación del logo del</tspan><tspan x="942.7" y="650.8">sapito saltando… sonido y agua</tspan>
<tspan x="1359.3" y="694">Animación logo</tspan><tspan x="1368.3" y="697.7">animación del logo del</tspan><tspan x="1359.3" y="701.2">sapito saltando… sonido y agua</tspan>
<tspan x="1767.3" y="624.5">Animación logo</tspan><tspan x="1776.7" y="628">animación del logo del</tspan><tspan x="1767.3" y="631.7">sapito saltando… sonido y agua</tspan></text>
<text class="an"><tspan x="527" y="159.5">Noticia más reciente</tspan><tspan x="936.7" y="159.3">Noticia más reciente</tspan><tspan x="1351.7" y="158.9">Noticia más reciente</tspan><tspan x="1762.3" y="158.9">Noticia más reciente</tspan><tspan x="1352.7" y="773.9">Noticia más reciente</tspan><tspan x="1761" y="704.2">Noticia más reciente</tspan></text>
<text class="an"><tspan x="527" y="223.2">Otras noticias</tspan><tspan x="937.3" y="223">Otras noticias</tspan><tspan x="1352.7" y="223.2">Otras noticias</tspan><tspan x="1762.7" y="222.9">Otras noticias</tspan><tspan x="1353.3" y="836.9">Otras noticias</tspan><tspan x="1761.7" y="766.9">Otras noticias</tspan><tspan x="942.3" y="909.2">Otras noticias</tspan></text>
<text class="an"><tspan x="525" y="290.2">Testimonios</tspan><tspan x="534" y="293.5">en texto, con foto</tspan><tspan x="534" y="297">en video</tspan><tspan x="536" y="300.7">“por qué te gusta el jardín”</tspan>
<tspan x="935" y="290.9">Testimonios</tspan><tspan x="945" y="294.2">en texto, con foto</tspan><tspan x="945" y="297.6">en video</tspan><tspan x="946" y="301">“por qué te gusta el jardín”</tspan>
<tspan x="1350.7" y="290.5">Testimonios</tspan><tspan x="1360" y="294">en texto, con foto</tspan><tspan x="1360" y="297.4">en video</tspan><tspan x="1360.7" y="300.9">“por qué te gusta el jardín”</tspan>
<tspan x="1761" y="290.2">Testimonios</tspan><tspan x="1770" y="293.5">en texto, con foto</tspan><tspan x="1770" y="296.9">en video</tspan><tspan x="1772.3" y="300.7">“por qué te gusta el jardín”</tspan>
<tspan x="936" y="719.5">Testimonios</tspan><tspan x="945" y="722.9">en texto, con foto</tspan><tspan x="945" y="726.2">en video</tspan><tspan x="946" y="730">“por qué te gusta el jardín”</tspan>
<tspan x="1351" y="905.9">Testimonios</tspan><tspan x="1361" y="909">en texto, con foto</tspan><tspan x="1361" y="912">en video</tspan><tspan x="1361.7" y="916">“por qué te gusta el jardín”</tspan>
<tspan x="1759.3" y="835.9">Testimonios</tspan><tspan x="1769" y="839">en texto, con foto</tspan><tspan x="1769" y="842.4">en video</tspan><tspan x="1770" y="846">“por qué te gusta el jardín”</tspan></text>
<text class="an"><tspan x="193.3" y="174.2">Filosofía ilustrada</tspan><tspan x="202.7" y="177.8">ilustración de cada</tspan><tspan x="202.7" y="180.9">propuesta de identidad</tspan></text>
<text class="an"><tspan x="188.3" y="281.9">Equipo humano</tspan><tspan x="197.3" y="285.2">muestra la labor de la persona</tspan><tspan x="197.3" y="288.5">(quién y profesión)</tspan><tspan x="197.3" y="292">años de experiencia</tspan><tspan x="197.3" y="295.2">foto puede ser (un paseo de la actividad...)</tspan><tspan x="197.3" y="298.5">(* opcional)</tspan><tspan x="197.3" y="301.9">(*) pedagogo, nutricionista, psicólogo, etc.</tspan></text>
<text class="an"><tspan x="204" y="376.9">Avales: todos los logos</tspan><tspan x="204" y="380.2">pueden llevar a web</tspan></text>
<text class="an"><tspan x="180" y="553.5">Se envía correo automático</tspan><tspan x="186.7" y="556.8">(nombre, correo, asunto, mensaje)</tspan><tspan x="196.7" y="560.1">formulario</tspan></text>
<text class="an"><tspan x="613.3" y="180">Instalaciones</tspan><tspan x="623.3" y="183.6">galería de fotos del lugar</tspan><tspan x="623.3" y="187">fotos rotativas</tspan><tspan x="623.3" y="190.3">mapa y ubicación</tspan></text>
<text class="an"><tspan x="609.3" y="473.8">Horarios</tspan><tspan x="619.3" y="477.1">horario de atención</tspan><tspan x="609.3" y="480.3">documentos para</tspan><tspan x="609.3" y="483.4">la matrícula</tspan><tspan x="619.3" y="487.3">con un enlace</tspan><tspan x="609.3" y="490.5">descargar formularios y más</tspan><tspan x="609.3" y="493.5">info</tspan></text>
<text class="an"><tspan x="625" y="531.3">Tip: una</tspan><tspan x="625" y="534.7">pregunta a</tspan><tspan x="625" y="538.1">una forma de</tspan><tspan x="625" y="541.8">matricular</tspan></text>
<text class="an"><tspan x="999" y="153.2">Fotos de cada actividad</tspan><tspan x="1009" y="156.9">muestra fotos de los niños haciendo la</tspan><tspan x="1009" y="160.6">actividad y videos destacados</tspan></text>
<text class="an" x="1049.3" y="178.8">galería fotos</text>
<text class="an"><tspan x="1017.7" y="255.2">videos y fotos</tspan><tspan x="1017.7" y="259.6">el producto (dibujos, plastilina)</tspan><tspan x="1017.7" y="263.4">galería de fotos (o fotos destacadas)</tspan></text>
<text class="an" x="1050" y="375.7">videos y fotos</text>
<text class="an"><tspan x="1028.3" y="477.2">video</tspan><tspan x="1028.3" y="481.7">video muy llamativo sobre la experiencia</tspan></text>
<text class="an"><tspan x="1453.3" y="342.9">Foto del conductor</tspan><tspan x="1463.3" y="346.7">y de la monitora de</tspan><tspan x="1463.3" y="350">vehículo para seguridad</tspan></text>
<text class="an"><tspan x="1475.7" y="385.9">Tip: pregunta</tspan><tspan x="1475.7" y="389.2">frecuente, en</tspan><tspan x="1475.7" y="392.7">préstamo</tspan></text>
<text class="an"><tspan x="1464.3" y="460.2">Nutricionista</tspan><tspan x="1474" y="463.5">foto de la persona</tspan><tspan x="1474" y="466.8">plan de comidas</tspan></text>
<text class="an"><tspan x="1480" y="487.9">Tip: pregunta</tspan><tspan x="1480" y="491.1">sobre el menú</tspan><tspan x="1480" y="494.2">de cada</tspan><tspan x="1480" y="497.2">comida</tspan></text>
<text class="an"><tspan x="570" y="735.9">Imagen rotativa</tspan><tspan x="570" y="741.9">slide de presentación</tspan><tspan x="590" y="745.2">fotos y videos destacados y/o noticias</tspan><tspan x="590" y="748.9">actividades del día a día</tspan><tspan x="590" y="752.2">acompañadas de publicidad y/o descripción</tspan></text>
<text class="an" x="619" y="949.2">noticia más reciente</text>
<text class="an"><tspan x="1405" y="743.5">Blog / noticias</tspan><tspan x="1415" y="746.9">artículos recomendados</tspan><tspan x="1415" y="750.4">noticias y bienvenida a los nuevos niños...</tspan><tspan x="1415" y="753.9">actividades del mes...</tspan></text>
</g>

<!-- CONNECTORS -->
<g id="connectors" class="ld">
<path d="M531 85L495 95M545 162L501 173M527 225.5L505 236M533 297L505 308"/>
<path d="M233.3 178.3L251.7 181.7M229.3 288.3L275 275M238.3 379.3L252.7 383.3M228.3 553.3L261.7 544"/>
<path d="M939.3 84L905 95.4M944.3 161.6L911 173M938.3 225.6L911.7 236.6M942.7 298L915 308.3"/>
<path d="M636.7 178.8L674.3 171.9M645 484.6L686 489.8M645 536.3L686 528.7"/>
<path d="M1354 85.3L1321 95.1M1360 162.5L1326.7 173M1359.3 225.7L1325 236.2M1356.7 297.9L1330 308.5"/>
<path d="M1056.7 162.5L1088.3 176.8M1061.7 182.4L1076 188M1070 267.1L1077.7 270.1M1065 379.2L1080 383M1071.7 486L1082.3 489.8"/>
<path d="M1765 84.3L1731 95M1770.7 162.3L1736.7 172.7M1769.3 226L1737.3 236.7M1767.7 296.7L1740.7 308.3"/>
<path d="M1496.7 346.7L1511 351.7M1498.3 388.3L1511.7 383.3M1496.7 468.3L1511.7 475M1496.7 496.7L1509.3 500.7"/>
<path d="M938.3 649L905 659.3M941.7 726.7L915 737.7M948.3 911.7L916 922.7M635 741.7L670 731M637.3 944L671 933.3"/>
<path d="M1355 699.3L1321 710M1360 776.7L1327.3 787.7M1360 839.3L1327.3 850.7M1358.3 912.7L1330.7 924"/>
<path d="M1763.3 629.3L1729.3 640M1768.3 707.3L1735 717.3M1768.3 770L1735 780.7M1766.7 842.7L1739.3 853.3M1451.7 746L1485 736"/>
</g>
</svg>
